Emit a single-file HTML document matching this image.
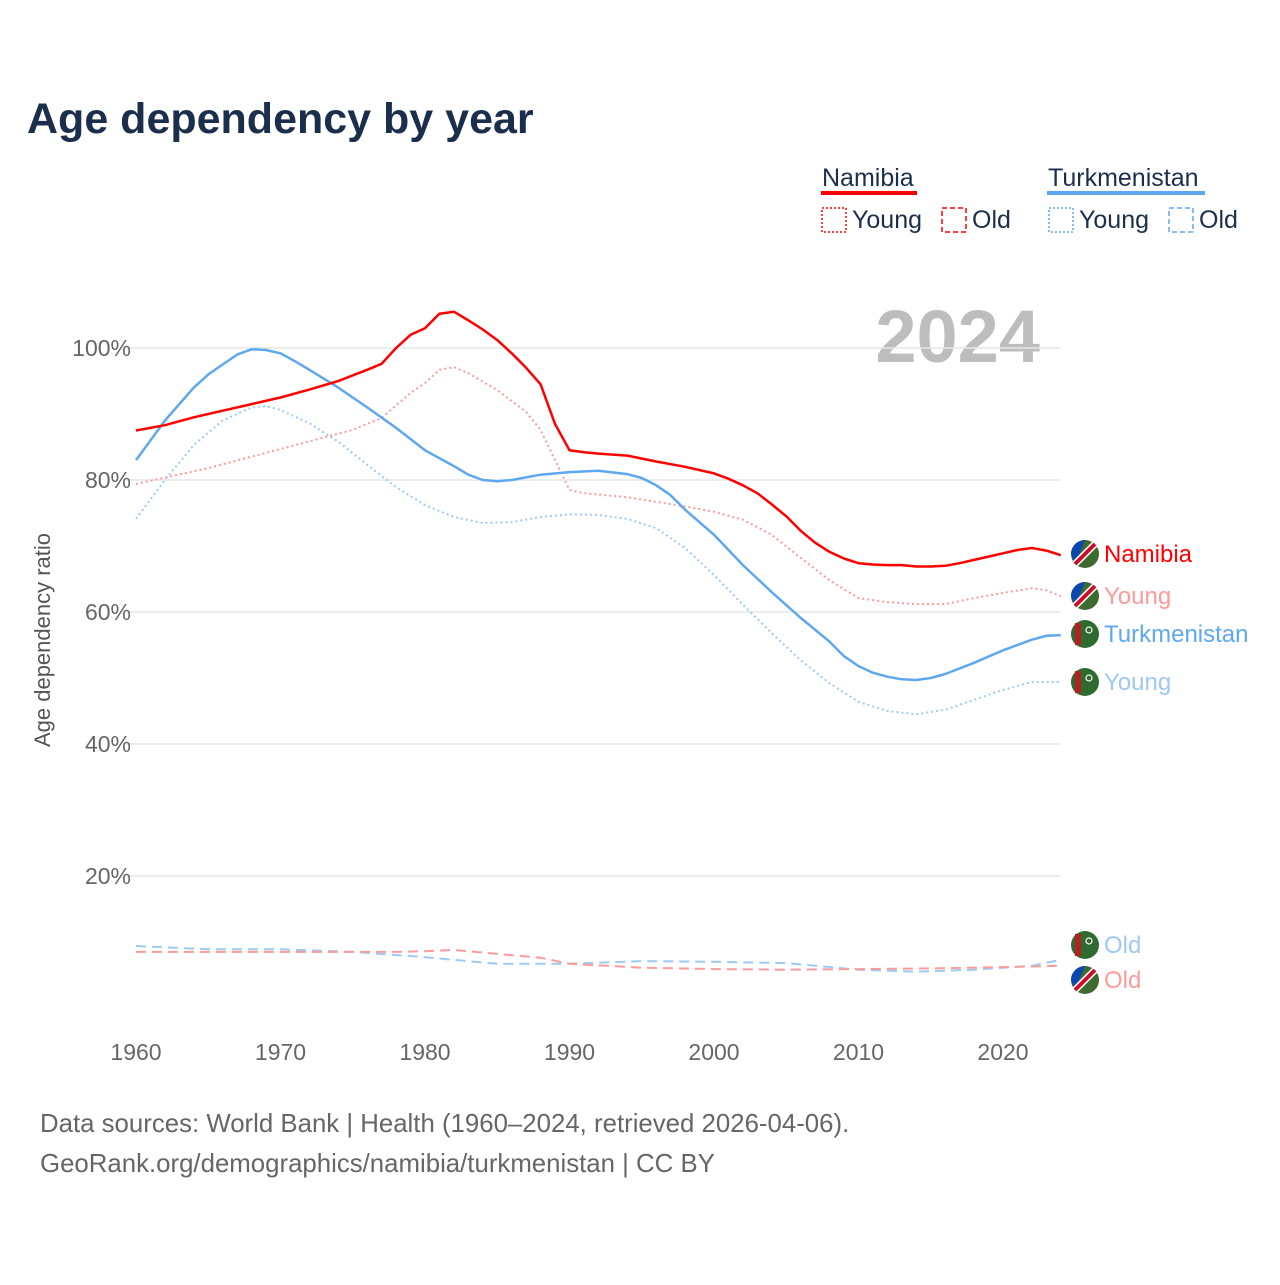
<!DOCTYPE html>
<html><head><meta charset="utf-8"><style>
body{margin:0;background:#fff;font-family:"Liberation Sans",sans-serif;}
svg text{font-family:"Liberation Sans",sans-serif;}
</style></head><body>
<svg id="chart" width="1280" height="1280" xmlns="http://www.w3.org/2000/svg">
<text x="27" y="133" font-size="43" font-weight="bold" fill="#1b2f4d">Age dependency by year</text>
<g font-size="25" fill="#1b2f4d">
 <text x="822" y="186" fill="#1b2f4d">Namibia</text>
 <rect x="821" y="191" width="96" height="4" fill="#ff0000"/>
 <rect x="822" y="208" width="24" height="24" fill="none" stroke="#ff0000" stroke-width="1.5" stroke-dasharray="2 2"/>
 <text x="852" y="228">Young</text>
 <rect x="942" y="208" width="24" height="24" fill="none" stroke="#ff0000" stroke-width="1.5" stroke-dasharray="5 3"/>
 <text x="972" y="228">Old</text>
 <text x="1048" y="186">Turkmenistan</text>
 <rect x="1047" y="191" width="158" height="4" fill="#5ea8f0"/>
 <rect x="1049" y="208" width="24" height="24" fill="none" stroke="#5ea8f0" stroke-width="1.5" stroke-dasharray="2 2"/>
 <text x="1079" y="228">Young</text>
 <rect x="1169" y="208" width="24" height="24" fill="none" stroke="#5ea8f0" stroke-width="1.5" stroke-dasharray="5 3"/>
 <text x="1199" y="228">Old</text>
</g>
<text x="1040" y="362" font-size="74" font-weight="bold" fill="#bdbdbd" text-anchor="end">2024</text>
<text transform="translate(50,640) rotate(-90)" font-size="22" fill="#555" text-anchor="middle">Age dependency ratio</text>
<g id="grid"></g><g id="lines"></g><g id="labels"></g>
<text x="40" y="1132" font-size="25.8" fill="#666">Data sources: World Bank | Health (1960–2024, retrieved 2026-04-06).</text>
<text x="40" y="1172" font-size="25.8" fill="#666">GeoRank.org/demographics/namibia/turkmenistan | CC BY</text>
</svg>
<script>
const yTicks=[20,40,60,80,100];
const xTicks=[1960,1970,1980,1990,2000,2010,2020];
const namTotalYears=[1960,1962,1964,1966,1968,1970,1972,1974,1976,1977,1978,1979,1980,1981,1982,1983,1984,1985,1986,1987,1988,1989,1990,1991,1992,1994,1996,1998,2000,2001,2002,2003,2004,2005,2006,2007,2008,2009,2010,2011,2012,2013,2014,2015,2016,2017,2018,2019,2020,2021,2022,2023,2024];
const namTotal=[87.5,88.3,89.5,90.5,91.5,92.5,93.7,95,96.7,97.6,100,102,103,105.2,105.5,104.2,102.8,101.2,99.2,97,94.5,88.5,84.5,84.2,84,83.7,82.8,82,81,80.2,79.2,78,76.3,74.5,72.3,70.5,69.1,68.1,67.4,67.2,67.1,67.1,66.9,66.9,67,67.4,67.9,68.4,68.9,69.4,69.7,69.3,68.6];
const namYoungYears=[1960,1965,1970,1975,1977,1979,1980,1981,1982,1983,1985,1987,1988,1989,1990,1991,1994,1996,1998,2000,2002,2004,2006,2008,2010,2012,2014,2016,2018,2020,2022,2023,2024];
const namYoung=[79.4,81.8,84.7,87.6,89.4,93.2,94.7,96.7,97.1,96.2,93.6,90.3,87.6,83,78.5,78,77.4,76.7,76,75.2,74,71.7,68.2,64.8,62.1,61.5,61.2,61.2,62.1,62.9,63.6,63.3,62.4];
const namOldYears=[1960,1970,1978,1980,1982,1985,1988,1990,1995,2000,2005,2010,2015,2020,2024];
const namOld=[8.5,8.5,8.5,8.6,8.8,8.2,7.6,6.7,6.1,5.9,5.8,5.9,6,6.2,6.4];
const tkmTotalYears=[1960,1962,1964,1965,1967,1968,1969,1970,1971,1972,1974,1976,1978,1980,1982,1983,1984,1985,1986,1988,1990,1992,1994,1995,1996,1997,1998,2000,2002,2004,2006,2008,2009,2010,2011,2012,2013,2014,2015,2016,2018,2020,2022,2023,2024];
const tkmTotal=[83,89,94,96,99,99.8,99.7,99.2,98,96.7,94,91,87.9,84.5,82.1,80.8,80,79.8,80,80.8,81.2,81.4,80.9,80.3,79.2,77.7,75.5,71.7,67.1,63,59.1,55.5,53.3,51.8,50.8,50.2,49.8,49.7,50,50.6,52.3,54.2,55.8,56.4,56.5];
const tkmYoungYears=[1960,1962,1964,1966,1968,1969,1970,1972,1974,1976,1978,1980,1982,1984,1986,1988,1990,1992,1994,1996,1998,2000,2002,2004,2006,2008,2010,2012,2014,2016,2018,2020,2022,2024];
const tkmYoung=[74.1,80,85.3,89,91,91.2,90.6,88.6,85.8,82.3,78.9,76.2,74.4,73.5,73.6,74.4,74.8,74.7,74.1,72.7,69.7,65.6,61.1,56.8,52.7,49.2,46.4,45,44.5,45.2,46.7,48.2,49.4,49.4];
const tkmOldYears=[1960,1965,1970,1975,1980,1985,1990,1995,2000,2005,2010,2014,2018,2022,2024];
const tkmOld=[9.4,8.9,8.9,8.5,7.7,6.7,6.7,7.1,7,6.8,5.8,5.5,5.8,6.4,7.3];

const NS='http://www.w3.org/2000/svg';
const X=y=>136+(y-1960)*(867/60);
const Y=v=>1008-v*6.6;
function mk(t,a,p){const e=document.createElementNS(NS,t);for(const k in a)e.setAttribute(k,a[k]);p.appendChild(e);return e;}
const grid=document.getElementById('grid');
yTicks.forEach(t=>{
 const l=mk('line',{x1:126,x2:1060,y1:Y(t),y2:Y(t),stroke:'#e6e6e6','stroke-width':1.5},grid);
 
 
 const tx=mk('text',{x:131,y:Y(t)+8,'font-size':23,fill:'#666','text-anchor':'end'},grid);
 tx.textContent=t+'%';
 
 
});
xTicks.forEach(t=>{
 const tx=mk('text',{x:X(t),y:1060,'font-size':23,fill:'#666','text-anchor':'middle'},grid);
 tx.textContent=t;
 
 
});
const lines=document.getElementById('lines');
function draw(xs,vs,col,dash,w,name){
 const d=xs.map((x,i)=>(i?'L':'M')+X(x).toFixed(1)+','+Y(vs[i]).toFixed(1)).join('');
 const p=mk('path',{d:d,fill:'none',stroke:col,'stroke-width':w,'stroke-dasharray':dash,'stroke-linejoin':'round'},lines);
 
 
}
draw(tkmOldYears,tkmOld,'#9ec9f5','10 6',2,'line-turkmenistan-old');
draw(namOldYears,namOld,'#ff9a9a','10 6',2,'line-namibia-old');
draw(tkmYoungYears,tkmYoung,'#9ec9f5','2 3',2,'line-turkmenistan-young');
draw(namYoungYears,namYoung,'#ff9a9a','2 3',2,'line-namibia-young');
draw(tkmTotalYears,tkmTotal,'#5ea8f0','',2.5,'line-turkmenistan-total');
draw(namTotalYears,namTotal,'#ff0000','',2.5,'line-namibia-total');

const labels=document.getElementById('labels');
function lab(ty,txt,col,flag,name){
 const g=mk('g',{},labels);
 
 
 const cx=1085;
 if(flag==='nam'){
  mk('circle',{cx:cx,cy:ty,r:14,fill:'#3d6b2e'},g);
  mk('path',{d:`M${cx-14},${ty} A14,14 0 0,1 ${cx},${ty-14} L${cx-10},${ty+10} Z`,fill:'#0a47b0'},g);
  mk('line',{x1:cx-10,y1:ty+10,x2:cx+10,y2:ty-10,stroke:'#fff','stroke-width':7},g);
  mk('line',{x1:cx-10,y1:ty+10,x2:cx+10,y2:ty-10,stroke:'#c8102e','stroke-width':4},g);
 }else{
  mk('circle',{cx:cx,cy:ty,r:14,fill:'#2f6b2e'},g);
  mk('rect',{x:cx-10,y:ty-11,width:6,height:22,fill:'#b22222'},g);
  mk('circle',{cx:cx+4,cy:ty-4,r:3,fill:'none',stroke:'#fff','stroke-width':1.2},g);
 }
 const t=mk('text',{x:1104,y:ty+8,'font-size':24,fill:col},g);
 t.textContent=txt;
}
lab(554,'Namibia','#ff0000','nam','label-namibia');
lab(596,'Young','#ff9a9a','nam','label-namibia-young');
lab(634,'Turkmenistan','#5ea8f0','tkm','label-turkmenistan');
lab(682,'Young','#9ec9f5','tkm','label-turkmenistan-young');
lab(945,'Old','#9ec9f5','tkm','label-turkmenistan-old');
lab(980,'Old','#ff9a9a','nam','label-namibia-old');
</script>
</body></html>
